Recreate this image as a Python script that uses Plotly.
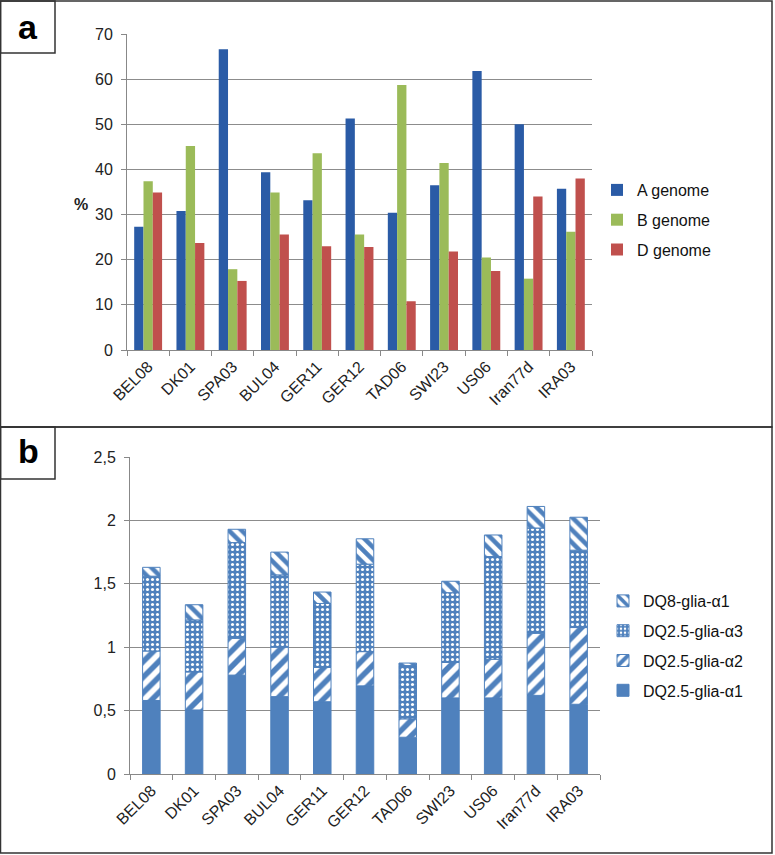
import plotly.graph_objects as go
import numpy as np

W, H = 775, 855

categories = ["BEL08", "DK01", "SPA03", "BUL04", "GER11", "GER12", "TAD06", "SWI23", "US06", "Iran77d", "IRA03"]

# Panel a: genome percentages
a_genome = [27.3, 30.8, 66.6, 39.4, 33.2, 51.3, 30.4, 36.5, 61.8, 50.0, 35.7]
b_genome = [37.4, 45.2, 17.9, 34.9, 43.6, 25.6, 58.7, 41.4, 20.5, 15.8, 26.2]
d_genome = [34.9, 23.7, 15.3, 25.6, 23.0, 22.8, 10.8, 21.8, 17.5, 34.0, 38.0]

# Panel b: epitope values (stacked)
dq25_a1 = [0.58, 0.505, 0.78, 0.61, 0.57, 0.695, 0.29, 0.60, 0.60, 0.62, 0.55]
dq25_a2 = [0.39, 0.30, 0.29, 0.39, 0.27, 0.27, 0.145, 0.28, 0.305, 0.49, 0.605]
dq25_a3 = [0.59, 0.41, 0.755, 0.57, 0.505, 0.69, 0.42, 0.55, 0.81, 0.83, 0.61]
dq8_a1 = [0.07, 0.12, 0.105, 0.18, 0.09, 0.20, 0.02, 0.09, 0.17, 0.17, 0.26]

b_ticks = [0, 0.5, 1, 1.5, 2, 2.5]
b_ticktext = ["0", "0,5", "1", "1,5", "2", "2,5"]
a_ticks = [0, 10, 20, 30, 40, 50, 60, 70]

FONT = "Liberation Sans, Arial, sans-serif"
BLUE_B = "#4F81BD"


def px(x):
    return x / W


def py(y):
    return 1 - y / H


fig = go.Figure()

# Panel a traces
for name, vals, col in [("A genome", a_genome, "#2A5BA6"),
                        ("B genome", b_genome, "#9BBB59"),
                        ("D genome", d_genome, "#C0504D")]:
    fig.add_trace(go.Bar(x=categories, y=vals, name=name, marker=dict(color=col, line=dict(width=0)),
                         xaxis="x", yaxis="y", legend="legend", legendgroup=name))

# Panel b traces (stacked via explicit bases)
s1 = np.array(dq25_a1)
s2 = s1 + np.array(dq25_a2)
s3 = s2 + np.array(dq25_a3)
zeros = [0] * len(categories)

fig.add_trace(go.Bar(x=categories, y=dq25_a1, base=zeros, name="DQ2.5-glia-α1", offsetgroup="b", width=0.41,
                     marker=dict(color=BLUE_B, line=dict(color=BLUE_B, width=1)), legendrank=4,
                     xaxis="x2", yaxis="y2", legend="legend2", legendgroup="b1"))
fig.add_trace(go.Bar(x=categories, y=dq25_a2, base=list(s1), name="DQ2.5-glia-α2", offsetgroup="b", width=0.41,
                     marker=dict(color="white", line=dict(color=BLUE_B, width=1),
                                 pattern=dict(shape="/", fgcolor=BLUE_B, bgcolor="white", size=11, solidity=0.5)),
                     legendrank=3,
                     xaxis="x2", yaxis="y2", legend="legend2", legendgroup="b2"))
fig.add_trace(go.Bar(x=categories, y=dq25_a3, base=list(s2), name="DQ2.5-glia-α3", offsetgroup="b", width=0.41,
                     marker=dict(color=BLUE_B, line=dict(color=BLUE_B, width=1),
                                 pattern=dict(shape=".", fgcolor="white", bgcolor=BLUE_B, size=5, solidity=0.3)),
                     legendrank=2,
                     xaxis="x2", yaxis="y2", legend="legend2", legendgroup="b3"))
fig.add_trace(go.Bar(x=categories, y=dq8_a1, base=list(s3), name="DQ8-glia-α1", offsetgroup="b", width=0.41,
                     marker=dict(color="white", line=dict(color=BLUE_B, width=1),
                                 pattern=dict(shape="\\", fgcolor=BLUE_B, bgcolor="white", size=9, solidity=0.5)),
                     legendrank=1,
                     xaxis="x2", yaxis="y2", legend="legend2", legendgroup="b4"))

axis_common = dict(showline=True, linecolor="#888888", linewidth=1, ticks="outside", automargin=False,
                   tickcolor="#888888", ticklen=5, tickfont=dict(family=FONT, size=16, color="#222222"))

fig.update_layout(
    template="none",
    width=W, height=H,
    margin=dict(l=0, r=0, t=0, b=0, pad=0),
    paper_bgcolor="white", plot_bgcolor="white",
    barmode="group", bargap=0.34, bargroupgap=0,
    font=dict(family=FONT, color="#222222"),
    xaxis=dict(domain=[px(127), px(592)], anchor="y", tickangle=-45, tickson="boundaries",
               showgrid=False, **axis_common),
    yaxis=dict(domain=[py(350), py(34)], anchor="x", range=[0, 70], tickvals=a_ticks,
               ticklabelstandoff=5,
               showgrid=True, gridcolor="#8C8C8C", gridwidth=1, zeroline=False, **axis_common),
    xaxis2=dict(domain=[px(130), px(600)], anchor="y2", tickangle=-45, tickson="boundaries",
                showgrid=False, **axis_common),
    yaxis2=dict(domain=[py(774), py(457)], anchor="x2", range=[0, 2.5], tickvals=b_ticks,
                ticktext=b_ticktext, ticklabelstandoff=5,
                showgrid=True, gridcolor="#8C8C8C", gridwidth=1, zeroline=False,
                **axis_common),
    legend=dict(x=px(597), y=py(173), xanchor="left", yanchor="top", traceorder="grouped",
                tracegroupgap=6, font=dict(family=FONT, size=16, color="#111111"),
                bgcolor="rgba(0,0,0,0)", borderwidth=0, itemwidth=30),
    legend2=dict(x=px(603), y=py(584), xanchor="left", yanchor="top", traceorder="grouped",
                 tracegroupgap=6, font=dict(family=FONT, size=16, color="#111111"),
                 bgcolor="rgba(0,0,0,0)", borderwidth=0, itemwidth=30),
)

shapes = []
line_col = "#333333"
# panel borders
shapes.append(dict(type="rect", xref="paper", yref="paper", x0=px(0.5), x1=px(772), y0=py(427), y1=py(1),
                   line=dict(color=line_col, width=1.5)))
shapes.append(dict(type="rect", xref="paper", yref="paper", x0=px(0.5), x1=px(772), y0=py(853), y1=py(427),
                   line=dict(color=line_col, width=1.5)))
# label boxes
shapes.append(dict(type="rect", xref="paper", yref="paper", x0=px(0.5), x1=px(55), y0=py(53), y1=py(1),
                   line=dict(color=line_col, width=1.5)))
shapes.append(dict(type="rect", xref="paper", yref="paper", x0=px(0.5), x1=px(55), y0=py(479), y1=py(427),
                   line=dict(color=line_col, width=1.5)))

annotations = [
    dict(text="<b>a</b>", x=px(28), y=py(27), xref="paper", yref="paper", showarrow=False,
         xanchor="center", yanchor="middle",
         font=dict(family=FONT, size=34, color="#000000")),
    dict(text="<b>b</b>", x=px(28), y=py(451), xref="paper", yref="paper", showarrow=False,
         xanchor="center", yanchor="middle",
         font=dict(family=FONT, size=34, color="#000000")),
    dict(text="<b>%</b>", x=px(72), y=py(194), xref="paper", yref="paper", showarrow=False,
         font=dict(family=FONT, size=16, color="#222222")),
]
fig.update_layout(shapes=shapes, annotations=annotations)

fig.write_html("out.html", config={"displayModeBar": False},
               post_script="document.body.style.margin='0';")
